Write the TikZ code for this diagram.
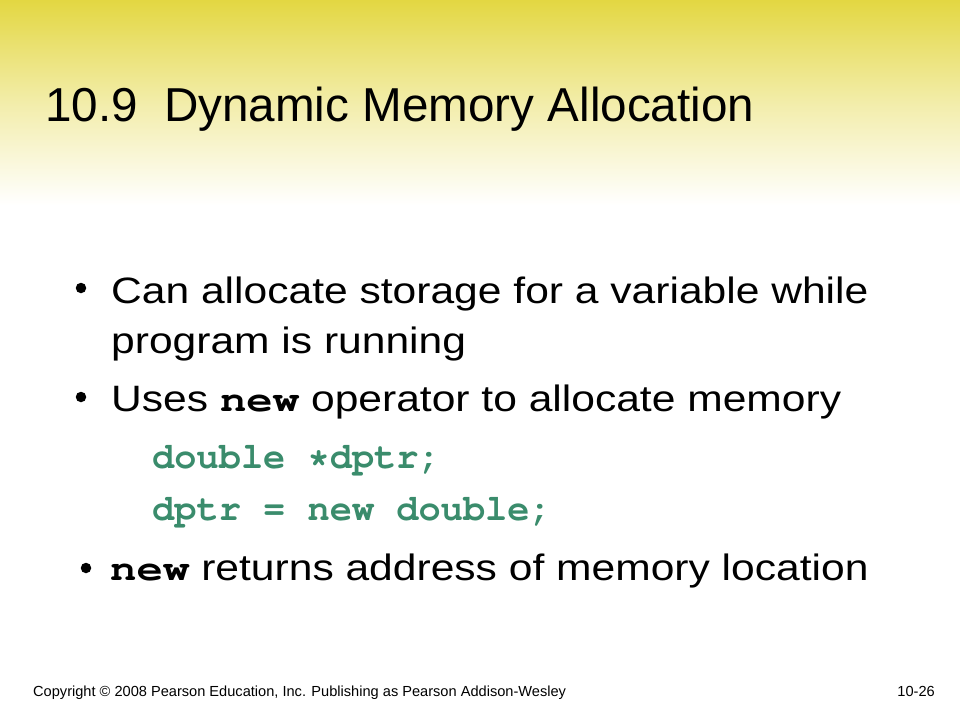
\documentclass[tikz,border=0pt]{standalone}
\usepackage{fontspec}
\setmainfont{Liberation Sans}
\newfontfamily\bodyfont[FakeStretch=1.16]{Liberation Sans}
\definecolor{slideyellow}{RGB}{227,215,66}
\definecolor{codegreen}{RGB}{58,140,108}
\newcommand{\courierbold}{\fontencoding{T1}\fontfamily{pcr}\fontseries{b}\selectfont}
\tikzset{
	txt/.style={anchor=base west, inner sep=0pt, font=\fontsize{36.7}{44}\bodyfont},
	code/.style={anchor=base west, inner sep=0pt, text=codegreen, font=\fontsize{37}{44}\courierbold},
	dot/.style={circle, fill=black, inner sep=0pt, minimum size=10.5pt},
	foot/.style={anchor=base west, inner sep=0pt, font=\fontsize{14.6}{17}\selectfont}
}
\newcommand{\kw}[1]{\scalebox{1.2}[1]{\fontsize{36.7}{44}\courierbold #1}}
\begin{document}
\begin{tikzpicture}[x=1pt, y=-1pt]

		\useasboundingbox (0, 0) rectangle (960, 720);
		\fill [white] (0, 0) rectangle (960, 720);
		\shade [top color=slideyellow, bottom color=white, middle color=slideyellow!45] (0, 0) rectangle (960, 205);

		% title
		\node [anchor=base west, inner sep=0pt, font=\fontsize{47.6}{56}\selectfont] (title) at (45, 121) {10.9\ \ Dynamic Memory Allocation};

		% bullets
		\node [dot] (dotA) at (81, 288) {};
		\node [txt] (lineA) at (111, 303) {Can allocate storage for a variable while};
		\node [txt] (lineB) at (111, 353) {program is running};
		\node [dot] (dotB) at (81, 397) {};
		\node [txt] (lineC) at (111, 411) {Uses \kw{new} operator to allocate memory};

		\node [code] (codeA) at (152, 468) {double *dptr;};
		\node [code] (codeB) at (152, 520) {dptr = new double;};

		\node [dot] (dotC) at (86, 568) {};
		\node [txt] (lineD) at (110, 580) {\kw{new} returns address of memory location};

		% footer
		\node [foot] (copy) at (33, 696) {Copyright \textcopyright\ 2008 Pearson Education, Inc. Publishing as Pearson Addison-Wesley};
		\node [foot, anchor=base east] (page) at (935, 696) {10-26};

\end{tikzpicture}
\end{document}
